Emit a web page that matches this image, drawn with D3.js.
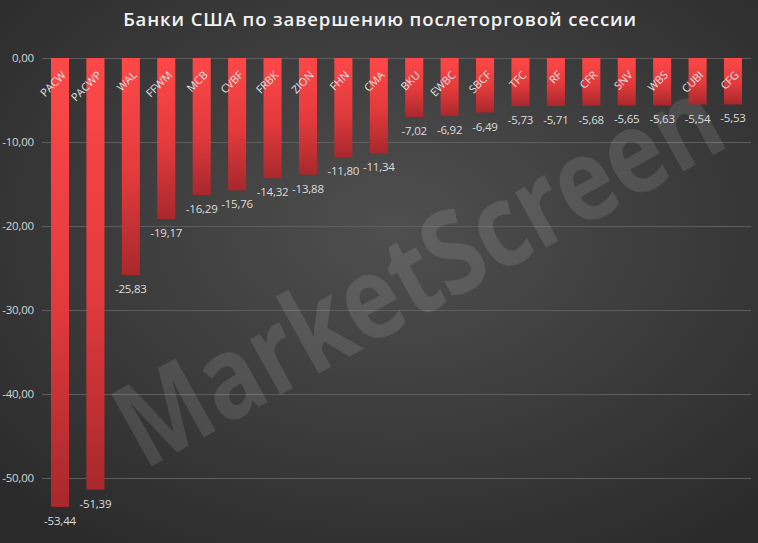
<!DOCTYPE html>
<html><head><meta charset="utf-8">
<script src="https://cdn.jsdelivr.net/npm/d3@7/dist/d3.min.js"></script>
<style>html,body{margin:0;padding:0;background:#333;}svg{display:block;}</style>
</head><body>
<script>
const categories = ["PACW","PACWP","WAL","FFWM","MCB","CVBF","FRBK","ZION","FHN","CMA","BKU","EWBC","SBCF","TFC","RF","CFR","SNV","WBS","CUBI","CFG"];
const values = [-53.44,-51.39,-25.83,-19.17,-16.29,-15.76,-14.32,-13.88,-11.80,-11.34,-7.02,-6.92,-6.49,-5.73,-5.71,-5.68,-5.65,-5.63,-5.54,-5.53];
const yTicks = [0,-10,-20,-30,-40,-50];
const title = "Банки США по завершению послетоpговой сессии";
const watermark = "MarketScreen";

const W = 758, H = 543;
const svg = d3.select("body").append("svg").attr("width", W).attr("height", H);
const defs = svg.append("defs");

const bg = defs.append("radialGradient").attr("id","bg").attr("cx","52%").attr("cy","42%").attr("r","72%");
bg.append("stop").attr("offset","0%").attr("stop-color","#4f4f4f");
bg.append("stop").attr("offset","100%").attr("stop-color","#2a2a2a");
svg.append("rect").attr("width",W).attr("height",H).attr("fill","url(#bg)");

const bar = defs.append("linearGradient").attr("id","barg").attr("x1",0).attr("y1",0).attr("x2",0).attr("y2",1);
bar.append("stop").attr("offset","0%").attr("stop-color","#ff4848");
bar.append("stop").attr("offset","55%").attr("stop-color","#e23a3c");
bar.append("stop").attr("offset","100%").attr("stop-color","#a8282c");

const loc = d3.formatLocale({decimal:",", thousands:" ", grouping:[3], currency:["",""], minus:"-"});
const fmt = loc.format(".2f");

const x = d3.scaleBand().domain(categories).range([42.3, 750.7]).paddingInner(0.49).paddingOuter(0.245);
const y = d3.scaleLinear().domain([0,-50]).range([58,478]);

// gridlines
svg.append("g").selectAll("line").data(yTicks).join("line")
  .attr("x1",42).attr("x2",751)
  .attr("y1",d=>y(d)+0.5).attr("y2",d=>y(d)+0.5)
  .attr("stroke","#5e5e5e").attr("stroke-width",1);

// y axis labels
const yAxis = d3.axisLeft(y).tickValues(yTicks).tickFormat(fmt).tickSize(0).tickPadding(0);
const ya = svg.append("g").attr("transform","translate(34,0)").call(yAxis);
ya.select(".domain").remove();
ya.selectAll("text").attr("fill","#d4d4d4").style("font-family","'Open Sans', sans-serif")
  .style("font-size","11.5px").style("letter-spacing","-0.2px");

// watermark (natural glyphs, horizontally condensed with a scale so its box matches what is drawn)
const wmOuter = svg.append("g").attr("transform","translate(416,268) rotate(-29)");
const wmInner = wmOuter.append("g");
const wm = wmInner.append("text")
  .attr("text-anchor","middle").attr("dominant-baseline","central")
  .style("font-family","'Open Sans', sans-serif").style("font-weight","700").style("font-size","116px")
  .attr("fill","rgba(255,255,255,0.11)")
  .text(watermark);
const natural = wm.node().getComputedTextLength() || 860;
wmInner.attr("transform",`scale(${672/natural},1)`);

// bars
const data = categories.map((c,i)=>({c, v: values[i]}));
svg.append("g").selectAll("rect").data(data).join("rect")
  .attr("x",d=>x(d.c)).attr("width",x.bandwidth())
  .attr("y",y(0)).attr("height",d=>y(d.v)-y(0))
  .attr("fill","url(#barg)");

// value labels
svg.append("g").selectAll("text").data(data).join("text")
  .attr("x",d=>x(d.c)+x.bandwidth()/2).attr("y",d=>y(d.v)+18)
  .attr("text-anchor","middle").attr("fill","#dcdcdc")
  .style("font-family","'Open Sans', sans-serif").style("font-size","11.5px").style("letter-spacing","-0.2px")
  .text(d=>fmt(d.v));

// category labels
svg.append("g").selectAll("text").data(data).join("text")
  .attr("transform",d=>`translate(${x(d.c)+x.bandwidth()/2+4},73) rotate(-45)`)
  .attr("text-anchor","end").attr("dy","0.35em").attr("fill","#e0e0e0")
  .style("font-family","'Open Sans', sans-serif").style("font-size","11px")
  .text(d=>d.c);

// title
svg.append("text").attr("x",380).attr("y",26).attr("text-anchor","middle")
  .attr("fill","#f2f2f2").style("font-family","'Open Sans', sans-serif").style("font-weight","600")
  .style("font-size","18.5px").style("letter-spacing","0.9px")
  .text(title);
</script>
</body></html>
